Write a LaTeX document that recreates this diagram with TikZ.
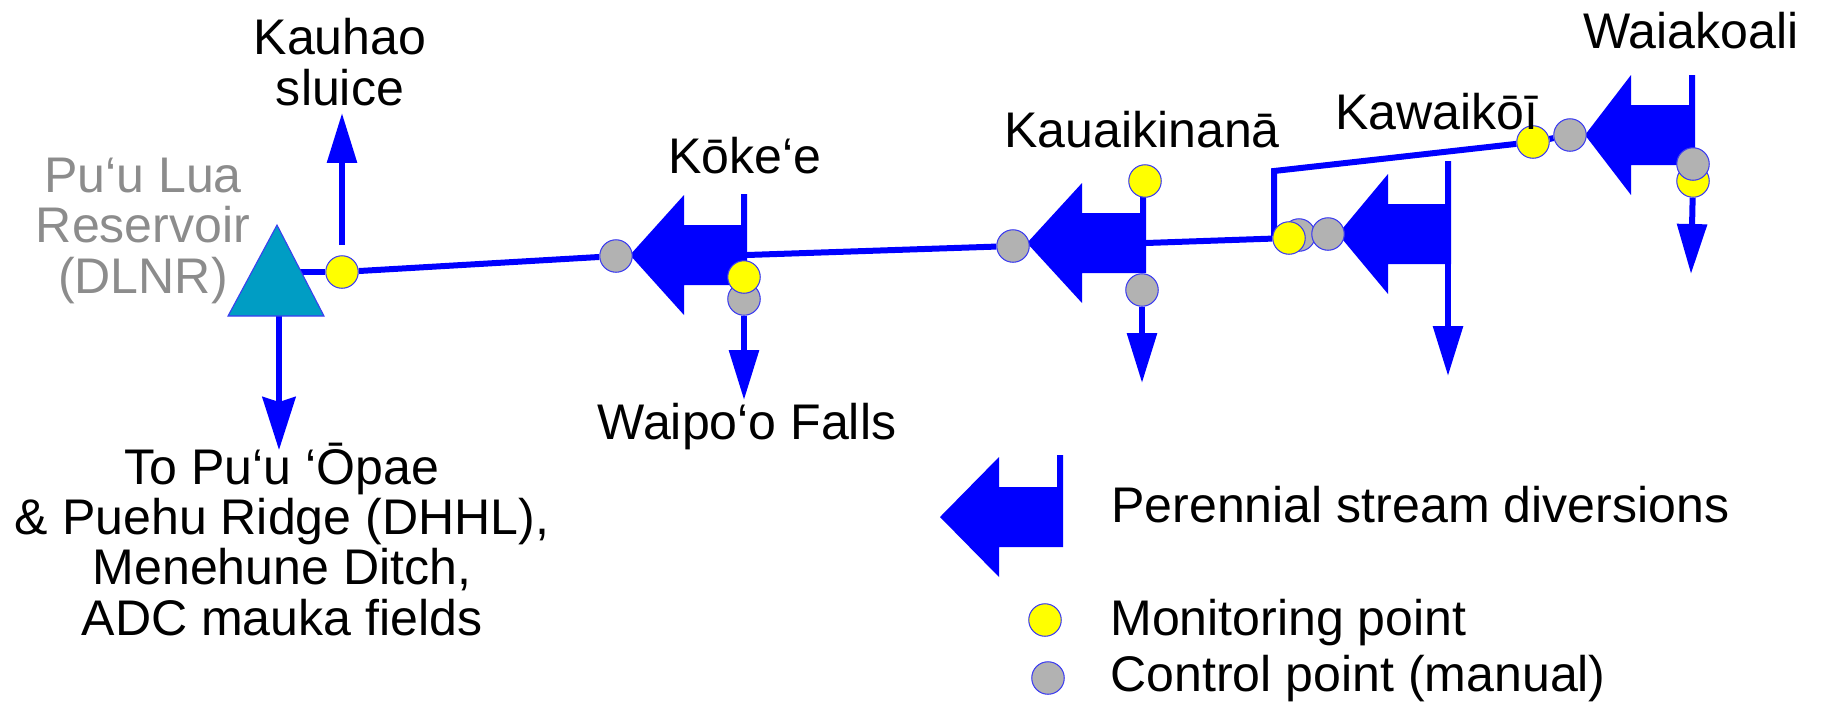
\documentclass[tikz,border=0pt]{standalone}
\usepackage{fontspec}
\setmainfont{Liberation Sans}
\usetikzlibrary{arrows.meta,backgrounds}
\definecolor{ditchblue}{RGB}{0,0,255}
\definecolor{lakeblue}{RGB}{0,157,196}
\definecolor{dotedge}{RGB}{60,60,240}
\definecolor{dotgray}{RGB}{178,178,178}
\definecolor{dotyellow}{RGB}{255,255,0}
\definecolor{labelgray}{RGB}{140,140,140}
\tikzset{
  ditch/.style={draw=ditchblue, line width=0.12cm},
  outflow/.style={ditch, -{Triangle[length=1cm,width=0.58cm]}},
  monitor/.style={shape=circle, draw=dotedge, line width=0.6pt, fill=dotyellow, minimum size=0.65cm, inner sep=0pt},
  control/.style={shape=circle, draw=dotedge, line width=0.6pt, fill=dotgray, minimum size=0.65cm, inner sep=0pt},
  place/.style={shape=rectangle, draw=none, inner sep=0pt, align=center, font=\fontsize{28.5pt}{28.5pt}\selectfont},
}
\begin{document}
\begin{tikzpicture}[x=0.02cm,y=-0.02cm]
\useasboundingbox (0,0) rectangle (1822,701);

%%%%%%%%%%%%%%%%%%%%%%%%%%%%%%%%%%%%%%%%%%% diversions
\foreach \name/\x/\y/\w/\b/\t in {kokee/630/255/117/54/194, kauai/1027/243/119/55/181, kawai/1338/234/113/50/161, waia/1585/135/110/46/75, legend/940/517/123/59/455}{
  \fill[ditchblue] (\x,\y) -- (\x+\b,\y-60) -- (\x+\b,\y-30) -- (\x+\w-6,\y-30) -- (\x+\w-6,\t) -- (\x+\w,\t)
    -- (\x+\w,\y+30) -- (\x+\b,\y+30) -- (\x+\b,\y+60) -- cycle;
  \coordinate (\name-out) at (\x+\w,\y);
  \coordinate (\name-foot) at (\x+\w-3,\y+30);
}

%%%%%%%%%%%%%%%%%%%%%%%%%%%%%%%%%%%%%%%%%%% reservoir
\draw[fill=lakeblue, draw=dotedge, line width=0.6pt] (277,225) -- (324,316) -- (228,316) -- cycle;
\coordinate (resout) at (300,272);
\coordinate (resfoot) at (279,316);

%%%%% monitoring and control points
\node[monitor](ykauhao) at (342,272) {};
\node[control](gkokee) at (616,256) {};
\node[control](gwaipoo) at (744,299) {};
\node[monitor](ywaipoo) at (744,277) {};
\node[control](gkauai) at (1013,246) {};
\node[monitor](ykauai) at (1145,181) {};
\node[control](gkauaifoot) at (1142,290) {};
\node[control](gkawaib) at (1299,235) {};
\node[monitor](ykawai) at (1289,238) {};
\node[control](gkawai) at (1328,234) {};
\node[monitor](ywaia) at (1533,142) {};
\node[control](gwaia) at (1570,135) {};
\node[monitor](ywaiafoot) at (1693,181) {};
\node[control](gwaiafoot) at (1693,164) {};
\node[monitor](ylegend) at (1045,620) {};
\node[control](glegend) at (1048,678) {};

%%%%% free ends of the outflows
\coordinate (kauhaostart) at (342,245);
\coordinate (kauhaotip) at (342,113);
\coordinate (restip) at (279,450);
\coordinate (waipootip) at (744,400);
\coordinate (kauaitip) at (1142,383);
\coordinate (kawaitip) at (1448,376);
\coordinate (waiatip) at (1691,274);
\coordinate (corner) at (1274,236);
\coordinate (cornertop) at (1274,171);

%%%%%%%%%%%%%%%%%%%%%%%%%%%%%%%%%%%%%%%%%%% ditch lines
\begin{scope}[on background layer]
\draw[ditch] (resout) -- (ykauhao);
\draw[ditch] (ykauhao) -- (gkokee);
\draw[ditch] (kokee-out) -- (gkauai);
\draw[ditch] (kauai-out) -- (ykawai);
\draw[ditch, line join=miter] (corner) -- (cornertop) -- (ywaia);
\draw[ditch] (ywaia) -- (gwaia);
\draw[outflow] (kauhaostart) -- (kauhaotip);
\draw[ditch, -{Stealth[length=1.06cm,width=0.66cm,inset=0.1cm]}] (resfoot) -- (restip);
\draw[outflow] (gwaipoo) -- (waipootip);
\draw[outflow] (gkauaifoot) -- (kauaitip);
\draw[outflow] (kawai-foot) -- (kawaitip);
\draw[outflow] (ywaiafoot) -- (waiatip);
\end{scope}

%%%%%%%%%%%%%%%%%%%%%%%%%%%%%%%%%%%%%%%%%%% labels
\node[place, anchor=base](kauhao) at (340,54) {Kauhao};
\node[place, anchor=base](sluice) at (340,105) {sluice};
\node[place, anchor=base, text=labelgray](reservoir) at (143,293) {Pu‘u Lua\\Reservoir\\(DLNR)};
\node[place, anchor=base](kokeename) at (745,173) {Kōke‘e};
\node[place, anchor=base](waipoo) at (747,439) {Waipo‘o Falls};
\node[place, anchor=base](kauainame) at (1142,147) {Kauaikinanā};
\node[place, anchor=base](kawainame) at (1437,129) {Kawaikōī};
\node[place, anchor=base](wainame) at (1691,48) {Waiakoali};
\node[place, anchor=base](users) at (282,635) {To Pu‘u ‘Ōpae\\\& Puehu Ridge (DHHL),\\Menehune Ditch,\\ADC mauka fields};
\node[place, anchor=base west](perennial) at (1111,522) {Perennial stream diversions};
\node[place, anchor=base west](monitoring) at (1110,635) {Monitoring point};
\node[place, anchor=base west](controlled) at (1110,691) {Control point (manual)};
\end{tikzpicture}
\end{document}
